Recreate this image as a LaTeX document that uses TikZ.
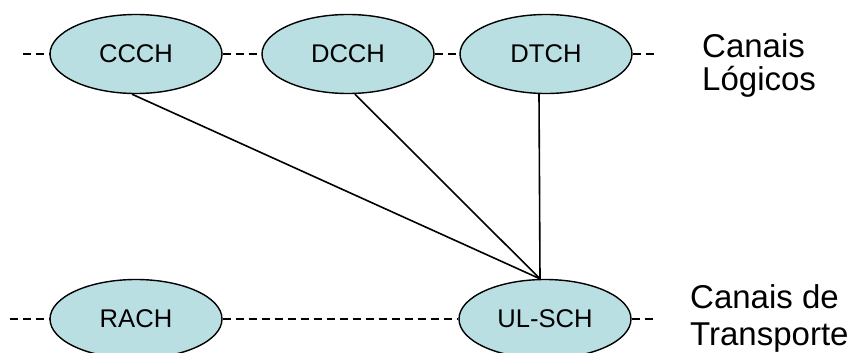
\documentclass[tikz,border=0pt]{standalone}
\usepackage{fontspec}
\setmainfont{Liberation Sans}
\usetikzlibrary{shapes.geometric}
\definecolor{chfill}{RGB}{185,223,227}
\begin{document}
\begin{tikzpicture}[x=1pt,y=-1pt,
  chan/.style={ellipse,draw=black,line width=1.4pt,fill=chfill,minimum width=172pt,minimum height=79pt,inner sep=0pt,font=\fontsize{25.6}{28}\selectfont},
  dashline/.style={line width=1.6pt,dash pattern=on 8pt off 5pt},
  link/.style={line width=1.6pt},
  lbl/.style={font=\fontsize{33}{36}\selectfont,anchor=base west,inner sep=0pt}]
\useasboundingbox (0,0) rectangle (859,353);
\clip (0,0) rectangle (859,353);
\node[chan] (ccch) at (136,54) {CCCH};
\node[chan] (dcch) at (348,54) {DCCH};
\node[chan] (dtch) at (546,54) {DTCH};
\node[chan] (rach) at (136,319) {RACH};
\node[chan] (ulsch) at (545,319) {UL-SCH};
\coordinate (tl) at (23,54);
\coordinate (tr) at (656,54);
\coordinate (bl) at (10,319);
\coordinate (br) at (656,319);
\draw[dashline] (tl) -- (ccch.west);
\draw[dashline] (ccch.east) -- (dcch.west);
\draw[dashline] (dcch.east) -- (dtch.west);
\draw[dashline] (dtch.east) -- (tr);
\draw[dashline] (bl) -- (rach.west);
\draw[dashline] (rach.east) -- (ulsch.west);
\draw[dashline] (ulsch.east) -- (br);
\draw[link] ([xshift=-4pt]ccch.south) -- ([xshift=-5pt]ulsch.north);
\draw[link] ([xshift=7pt]dcch.south) -- ([xshift=-5pt]ulsch.north);
\draw[link] ([xshift=-7pt]dtch.south) -- ([xshift=-5pt]ulsch.north);
\node[lbl] (l1) at (702,57) {Canais};
\node[lbl] (l2) at (702,90) {Lógicos};
\node[lbl] (l3) at (690,308) {Canais de};
\node[lbl] (l4) at (690,345) {Transporte};
\end{tikzpicture}
\end{document}
